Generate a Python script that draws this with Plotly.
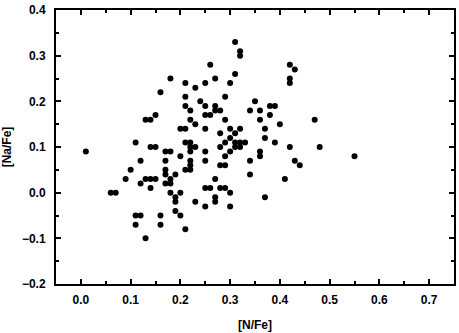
import plotly.graph_objects as go

# [N/Fe] and [Na/Fe] values
n_fe = [
    0.01, 0.06, 0.07, 0.09, 0.10, 0.11, 0.11, 0.11, 0.12, 0.12,
    0.12, 0.13, 0.13, 0.13, 0.14, 0.14, 0.14, 0.14, 0.15, 0.15,
    0.15, 0.16, 0.16, 0.16, 0.17, 0.17, 0.17, 0.17, 0.17, 0.18,
    0.18, 0.18, 0.18, 0.18, 0.19, 0.19, 0.19, 0.19, 0.20, 0.20,
    0.20, 0.20, 0.21, 0.21, 0.21, 0.21, 0.21, 0.21, 0.21, 0.22,
    0.22, 0.22, 0.22, 0.22, 0.22, 0.22, 0.22, 0.23, 0.23, 0.23,
    0.23, 0.24, 0.25, 0.25, 0.25, 0.25, 0.25, 0.25, 0.25, 0.25,
    0.26, 0.26, 0.26, 0.27, 0.27, 0.27, 0.27, 0.27, 0.27, 0.28,
    0.28, 0.28, 0.28, 0.28, 0.29, 0.29, 0.29, 0.29, 0.29, 0.29,
    0.30, 0.30, 0.30, 0.30, 0.30, 0.30, 0.31, 0.31, 0.31, 0.31,
    0.31, 0.32, 0.32, 0.32, 0.32, 0.32, 0.33, 0.34, 0.34, 0.34,
    0.35, 0.36, 0.36, 0.36, 0.36, 0.37, 0.37, 0.37, 0.38, 0.38,
    0.39, 0.39, 0.40, 0.41, 0.42, 0.42, 0.42, 0.42, 0.43, 0.43,
    0.44, 0.47, 0.48, 0.55,
]
na_fe = [
    0.09, 0.00, 0.00, 0.03, 0.05, 0.11, -0.05, -0.07, 0.07, 0.02,
    -0.05, 0.16, 0.03, -0.10, 0.16, 0.10, 0.03, 0.01, 0.17, 0.10,
    0.03, 0.22, -0.05, -0.07, 0.09, 0.07, 0.05, 0.04, 0.02, 0.25,
    0.09, 0.03, 0.02, 0.00, 0.04, -0.01, -0.02, -0.04, 0.14, 0.08,
    0.00, -0.05, 0.24, 0.21, 0.19, 0.14, 0.11, 0.05, -0.08, 0.18,
    0.16, 0.11, 0.10, 0.09, 0.07, 0.06, 0.05, 0.23, 0.15, 0.10,
    -0.02, 0.20, 0.24, 0.19, 0.17, 0.14, 0.09, 0.07, 0.01, -0.03,
    0.28, 0.17, 0.01, 0.25, 0.19, 0.18, 0.03, -0.01, -0.02, 0.18,
    0.13, 0.10, 0.06, 0.01, 0.21, 0.16, 0.11, 0.08, 0.06, 0.01,
    0.24, 0.14, 0.12, 0.09, 0.00, -0.03, 0.33, 0.26, 0.13, 0.11,
    0.10, 0.31, 0.30, 0.14, 0.11, 0.10, 0.11, 0.18, 0.07, 0.04,
    0.20, 0.18, 0.16, 0.09, 0.08, 0.14, 0.12, -0.01, 0.19, 0.17,
    0.19, 0.11, 0.15, 0.03, 0.28, 0.25, 0.24, 0.10, 0.27, 0.07,
    0.06, 0.16, 0.10, 0.08,
]

# axis ticks
x_ticks = [0.0, 0.1, 0.2, 0.3, 0.4, 0.5, 0.6, 0.7]
y_ticks = [-0.2, -0.1, 0.0, 0.1, 0.2, 0.3, 0.4]

FONT = 'Liberation Sans, Arial, sans-serif'

fig = go.Figure()

fig.add_trace(go.Scatter(
    x=n_fe,
    y=na_fe,
    mode='markers',
    marker=dict(size=6, color='black', line=dict(width=0)),
    showlegend=False,
))

axis_common = dict(
    showline=True,
    linecolor='black',
    linewidth=2,
    mirror='ticks',
    ticks='inside',
    ticklen=5,
    tickwidth=2,
    tickcolor='black',
    showgrid=False,
    zeroline=False,
    tickmode='array',
    tickformat='.1f',
    ticklabeloverflow='allow',
    tickfont=dict(family=FONT, size=12, color='black', weight='bold'),
    minor=dict(ticks='inside', ticklen=3, tickwidth=2, tickcolor='black',
               dtick=0.05, tick0=0, showgrid=False),
)

fig.update_layout(
    width=459,
    height=333,
    plot_bgcolor='white',
    paper_bgcolor='white',
    margin=dict(l=53, r=3, t=7, b=46),
    xaxis=dict(
        range=[-0.05, 0.75],
        tickvals=x_ticks,
        title=dict(text='[N/Fe]', standoff=14,
                   font=dict(family=FONT, size=12, color='black', weight='bold')),
        ticklabelstandoff=4,
        **axis_common,
    ),
    yaxis=dict(
        range=[-0.2, 0.4001],
        tickvals=y_ticks,
        title=dict(text='[Na/Fe]', standoff=10,
                   font=dict(family=FONT, size=12, color='black', weight='bold')),
        ticklabelstandoff=6,
        **axis_common,
    ),
)

# page body has a default 8px margin; drop it so the chart fills the window
fig.write_html("out.html", config={'displayModeBar': False},
               post_script="document.body.style.margin='0';")
